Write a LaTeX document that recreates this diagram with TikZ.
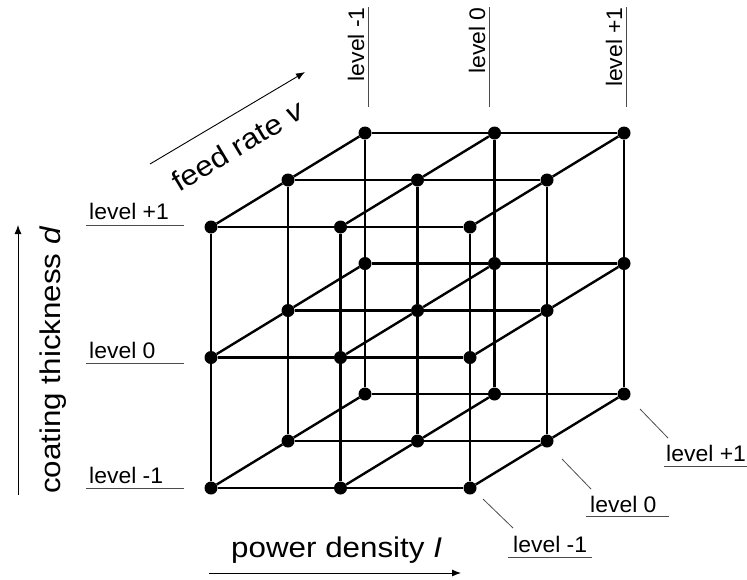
\documentclass[tikz,border=0pt]{standalone}
\usepackage{fontspec}
\setmainfont{Liberation Sans}
\newfontfamily\axisfont{Liberation Sans}[FakeStretch=1.1]
\newfontfamily\levelfont{Liberation Sans}[FakeStretch=1.02]
\usetikzlibrary{arrows.meta}
\begin{document}
\begin{tikzpicture}[x=1pt,y=-1pt,
  dot/.style={circle,fill=black,inner sep=0pt,minimum size=13pt},
  gridline/.style={line width=2.4pt,black},
  guide/.style={line width=0.8pt,black!70},
  axisarrow/.style={line width=0.9pt,black,-{Latex[length=9pt,width=7pt]}},
  lvl/.style={inner sep=0pt,font=\levelfont\fontsize{22.5}{27}\selectfont},
  axislabel/.style={inner sep=0pt,font=\axisfont\fontsize{28.5}{32}\selectfont}]
\useasboundingbox (0,0) rectangle (747,579);

% 3x3x3 lattice of test points: i = power density, j = coating thickness, k = feed rate
\foreach \i in {0,1,2}{
  \foreach \j in {0,1,2}{
    \foreach \k in {0,1,2}{
      \node[dot] (p\i\j\k) at ({211+129.5*\i+77*\k},{488-130.5*\j-47*\k}) {};
    }}}

% lattice edges along each axis
\foreach \a in {0,1,2}{
  \foreach \b in {0,1,2}{
    \draw[gridline] (p0\a\b) -- (p1\a\b) -- (p2\a\b);
    \draw[gridline] (p\a0\b) -- (p\a1\b) -- (p\a2\b);
    \draw[gridline] (p\a\b0) -- (p\a\b1) -- (p\a\b2);
  }}

% coating thickness levels (left)
\node[lvl,anchor=base west] (dP) at (89,219) {level +1};
\node[lvl,anchor=base west] (dZ) at (89,358) {level 0};
\node[lvl,anchor=base west] (dM) at (89,483) {level -1};
\coordinate (dPa) at (86,225); \coordinate (dPb) at (184,225);
\coordinate (dZa) at (86,363); \coordinate (dZb) at (184,363);
\coordinate (dMa) at (86,488); \coordinate (dMb) at (184,488);
\draw[guide] (dPa) -- (dPb);
\draw[guide] (dZa) -- (dZb);
\draw[guide] (dMa) -- (dMb);

% power density levels (top)
\node[lvl,rotate=90,anchor=base east] (iM) at (364,7) {level -1};
\node[lvl,rotate=90,anchor=base east] (iZ) at (485,7) {level 0};
\node[lvl,rotate=90,anchor=base east] (iP) at (622,7) {level +1};
\coordinate (iMa) at (368,7); \coordinate (iMb) at (368,107);
\coordinate (iZa) at (489,7); \coordinate (iZb) at (489,107);
\coordinate (iPa) at (626,7); \coordinate (iPb) at (626,107);
\draw[guide] (iMa) -- (iMb);
\draw[guide] (iZa) -- (iZb);
\draw[guide] (iPa) -- (iPb);

% feed rate levels (bottom right)
\node[lvl,anchor=base west] (vP) at (666,461) {level +1};
\node[lvl,anchor=base west] (vZ) at (590,512) {level 0};
\node[lvl,anchor=base west] (vM) at (513,552) {level -1};
\coordinate (vPa) at (664,466); \coordinate (vPb) at (747,466);
\coordinate (vZa) at (586,516); \coordinate (vZb) at (669,516);
\coordinate (vMa) at (508,557); \coordinate (vMb) at (592,557);
\draw[guide] (vPa) -- (vPb);
\draw[guide] (vZa) -- (vZb);
\draw[guide] (vMa) -- (vMb);
\coordinate (vPl1) at (640,409); \coordinate (vPl2) at (668,438);
\coordinate (vZl1) at (562,459); \coordinate (vZl2) at (591,489);
\coordinate (vMl1) at (483,499); \coordinate (vMl2) at (513,528);
\draw[guide] (vPl1) -- (vPl2);
\draw[guide] (vZl1) -- (vZl2);
\draw[guide] (vMl1) -- (vMl2);

% axis titles and direction arrows
\node[axislabel,rotate=90,anchor=base west] (dlab) at (60,494) {coating thickness \textit{d}};
\coordinate (dA) at (18,495); \coordinate (dB) at (18,225);
\draw[axisarrow] (dA) -- (dB);

\node[axislabel,anchor=base west] (ilab) at (231,557) {power density \textit{I}};
\coordinate (iA) at (209,573); \coordinate (iB) at (461,573);
\draw[axisarrow] (iA) -- (iB);

\node[axislabel,rotate=31,anchor=base west] (vlab) at (179,193) {feed rate \textit{v}};
\coordinate (vA) at (150,164); \coordinate (vB) at (305,72);
\draw[axisarrow] (vA) -- (vB);
\end{tikzpicture}
\end{document}
